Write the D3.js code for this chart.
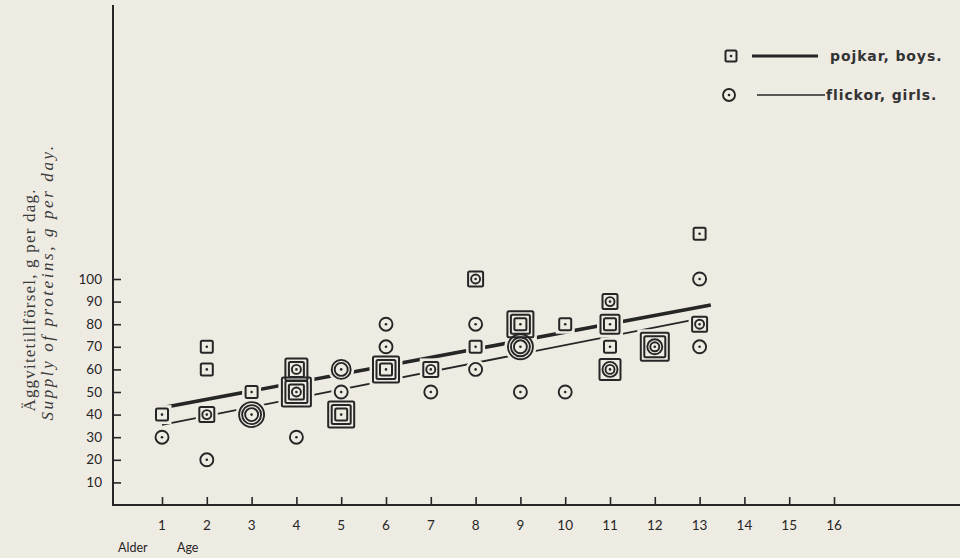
<!DOCTYPE html>
<html><head><meta charset="utf-8">
<script src="https://cdn.jsdelivr.net/npm/d3@7"></script>
<style>
html,body{margin:0;padding:0;background:#eeebe3;}
svg{display:block;}
</style></head>
<body>
<script>
// ---- data ----
const ages = [1,2,3,4,5,6,7,8,9,10,11,12,13,14,15,16];
const yTicks = [10,20,30,40,50,60,70,80,90,100];
// [age, value, number of boys' square rings, number of girls' circle rings]
const obsAge   = [1,1, 2,2,2,2, 3,3, 4,4,4, 5,5,5, 6,6,6, 7,7, 8,8,8,8, 9,9,9, 10,10, 11,11,11,11, 12, 13,13,13,13];
const obsValue = [40,30, 70,60,40,20, 50,40, 60,50,30, 60,50,40, 80,70,60, 60,50, 100,80,70,60, 80,70,50, 80,50, 90,80,70,60, 70, 120,100,80,70];
const obsBoys  = [1,0, 1,1,1,0, 1,0, 2,3,0, 0,0,3, 0,0,3, 1,0, 1,0,1,0, 3,0,0, 1,0, 1,2,1,1, 2, 1,0,1,0];
const obsGirls = [0,1, 0,0,1,1, 0,3, 1,1,1, 2,1,0, 1,1,0, 1,1, 1,1,0,1, 0,3,1, 0,1, 1,0,0,2, 2, 0,1,1,1];
const boysLineAge = [0.85, 13.25], boysLineVal = [42.5, 88.5];
const girlsLineAge = [1, 13], girlsLineVal = [35.5, 82.5];
const legendLabels = ["pojkar, boys.", "flickor, girls."];

const W = 960, H = 558, ink = "#262626", paper = "#eeebe3";
const svg = d3.select("body").append("svg").attr("width", W).attr("height", H);
svg.append("rect").attr("width", W).attr("height", H).attr("fill", paper);

const x = d3.scaleLinear().domain([1,16]).range([162, 834]);
const y = d3.scaleLinear().domain([0,100]).range([505, 279]);
const x0 = 113, y0 = 505;

// axes lines
svg.append("line").attr("x1", x0).attr("x2", x0).attr("y1", 5).attr("y2", y0+1)
  .attr("stroke", ink).attr("stroke-width", 2);
svg.append("line").attr("x1", x0-1).attr("x2", 960).attr("y1", y0).attr("y2", y0)
  .attr("stroke", ink).attr("stroke-width", 2);

// x axis ticks (upward) with labels
const xAxis = d3.axisTop(x).tickValues(ages).tickSize(8).tickFormat("");
const gx = svg.append("g").attr("transform", `translate(0,${y0})`).call(xAxis);
gx.select(".domain").remove();
gx.selectAll("line").attr("stroke", ink).attr("stroke-width", 1.6);
svg.append("g").selectAll("text").data(ages).join("text")
  .attr("x", d => x(d)).attr("y", 530).attr("text-anchor", "middle")
  .attr("font-family", "Lato, 'DejaVu Sans', sans-serif").attr("font-size", 13.5).attr("fill", ink)
  .text(d => d);

// y axis ticks (right) with labels
const yAxis = d3.axisRight(y).tickValues(yTicks).tickSize(8).tickFormat("");
const gy = svg.append("g").attr("transform", `translate(${x0},0)`).call(yAxis);
gy.select(".domain").remove();
gy.selectAll("line").attr("stroke", ink).attr("stroke-width", 1.6);
svg.append("g").selectAll("text").data(yTicks).join("text")
  .attr("x", 102).attr("y", d => y(d) + 4.5).attr("text-anchor", "end")
  .attr("font-family", "Lato, 'DejaVu Sans', sans-serif").attr("font-size", 13.5).attr("fill", ink)
  .text(d => d);

// axis titles
svg.append("text").attr("transform", "translate(35,300) rotate(-90)").attr("text-anchor", "middle")
  .attr("font-family", "'Liberation Serif', serif").attr("font-size", 17)
  .attr("letter-spacing", 1.2).attr("fill", "#3a3a3a")
  .text("Äggvitetillförsel, g per dag.");
svg.append("text").attr("transform", "translate(53,282) rotate(-90)").attr("text-anchor", "middle")
  .attr("font-family", "'Liberation Serif', serif").attr("font-style", "italic").attr("font-size", 17)
  .attr("letter-spacing", 2.6).attr("fill", "#3a3a3a")
  .text("Supply of proteins, g per day.");
svg.append("text").attr("x", 118).attr("y", 552)
  .attr("font-family", "Lato, 'DejaVu Sans', sans-serif").attr("font-size", 12.5).attr("fill", ink).text("Alder");
svg.append("text").attr("x", 177).attr("y", 552)
  .attr("font-family", "Lato, 'DejaVu Sans', sans-serif").attr("font-size", 12.5).attr("fill", ink).text("Age");

// regression lines
svg.append("line").attr("x1", x(boysLineAge[0])).attr("y1", y(boysLineVal[0]))
  .attr("x2", x(boysLineAge[1])).attr("y2", y(boysLineVal[1]))
  .attr("stroke", ink).attr("stroke-width", 3.6);
svg.append("line").attr("x1", x(girlsLineAge[0])).attr("y1", y(girlsLineVal[0]))
  .attr("x2", x(girlsLineAge[1])).attr("y2", y(girlsLineVal[1]))
  .attr("stroke", ink).attr("stroke-width", 1.8);

// markers
const obs = obsAge.map((a, i) => ({age: a, val: obsValue[i], nb: obsBoys[i], ng: obsGirls[i]}));
function rings(d) {
  const circles = [], squares = [];
  if (d.nb === 0) {
    for (let k = 0; k < d.ng; k++) circles.push(6.5 + k * 3);
  } else {
    let r = 6;
    if (d.ng > 0) {
      for (let k = 0; k < d.ng; k++) circles.push(4.5 + k * 3);
      r = circles[circles.length - 1] + 3;
    }
    for (let k = 0; k < d.nb; k++) squares.push(r + k * 3.5);
  }
  return {circles, squares};
}
obs.forEach(d => { const r = rings(d); d.circles = r.circles; d.squares = r.squares; });

const halo = svg.append("g");
obs.forEach(d => {
  const cx = x(d.age), cy = y(d.val);
  if (d.squares.length) {
    const h = d.squares[d.squares.length - 1];
    halo.append("rect").attr("x", cx - h).attr("y", cy - h).attr("width", 2*h).attr("height", 2*h)
      .attr("fill", paper).attr("stroke", paper).attr("stroke-width", 7);
  } else {
    const r = d.circles[d.circles.length - 1];
    halo.append("circle").attr("cx", cx).attr("cy", cy).attr("r", r)
      .attr("fill", paper).attr("stroke", paper).attr("stroke-width", 7);
  }
});
const mk = svg.append("g");
obs.forEach(d => {
  const cx = x(d.age), cy = y(d.val);
  d.squares.forEach(h => mk.append("rect").attr("x", cx - h).attr("y", cy - h)
    .attr("width", 2*h).attr("height", 2*h).attr("rx", 1.5)
    .attr("fill", "none").attr("stroke", ink).attr("stroke-width", 2));
  d.circles.forEach(r => mk.append("circle").attr("cx", cx).attr("cy", cy).attr("r", r)
    .attr("fill", "none").attr("stroke", ink).attr("stroke-width", 1.9));
  mk.append("circle").attr("cx", cx).attr("cy", cy).attr("r", 1.3).attr("fill", ink);
});

// legend
const lg = svg.append("g").attr("font-family", "'DejaVu Sans', sans-serif")
  .attr("font-size", 14).attr("font-weight", "bold").attr("letter-spacing", 0.9).attr("fill", "#333");
lg.append("rect").attr("x", 725.5).attr("y", 50.5).attr("width", 11).attr("height", 11).attr("rx", 1.5)
  .attr("fill", "none").attr("stroke", ink).attr("stroke-width", 2);
lg.append("circle").attr("cx", 731).attr("cy", 56).attr("r", 1.3).attr("fill", ink);
lg.append("line").attr("x1", 752).attr("x2", 818).attr("y1", 56).attr("y2", 56).attr("stroke", ink).attr("stroke-width", 3);
lg.append("text").attr("x", 830).attr("y", 61).text(legendLabels[0]);
lg.append("circle").attr("cx", 729).attr("cy", 95).attr("r", 6).attr("fill", "none").attr("stroke", ink).attr("stroke-width", 1.9);
lg.append("circle").attr("cx", 729).attr("cy", 95).attr("r", 1.3).attr("fill", ink);
lg.append("line").attr("x1", 757).attr("x2", 825).attr("y1", 95).attr("y2", 95).attr("stroke", ink).attr("stroke-width", 1.7);
lg.append("text").attr("x", 826).attr("y", 100).text(legendLabels[1]);
</script>
</body></html>
